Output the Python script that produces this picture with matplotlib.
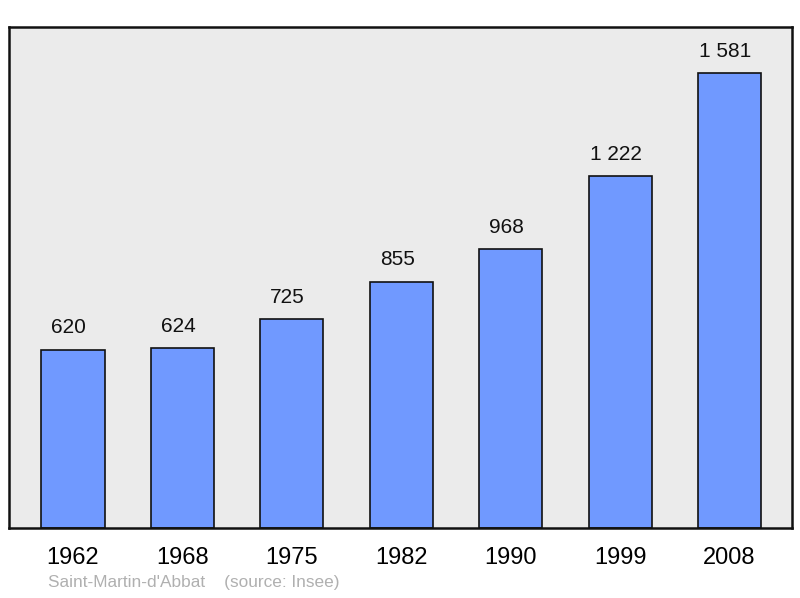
import matplotlib
matplotlib.use("Agg")
import matplotlib.pyplot as plt

plt.rcParams['font.family'] = ['Liberation Sans', 'DejaVu Sans']

years = ["1962", "1968", "1975", "1982", "1990", "1999", "2008"]
population = [620, 624, 725, 855, 968, 1222, 1581]
labels = ["620", "624", "725", "855", "968", "1 222", "1 581"]

fig = plt.figure(figsize=(8, 5.98), dpi=100)
ax = fig.add_axes([9/800, 70/598, 783/800, 501/598])
ax.set_facecolor("#ebebeb")

x = list(range(len(years)))
ax.bar(x, population, width=0.576, color="#7099ff", edgecolor="#111111",
       linewidth=1.2, zorder=2)

# value labels sit a little left of the bar centre in the original
for xi, v, lab in zip(x, population, labels):
    ax.annotate(lab, (xi, v), xytext=(-3, 9), textcoords="offset points",
                ha="center", va="bottom", fontsize=15, color="#111111")

ax.set_xlim(-0.585, 6.571)
ax.set_ylim(0, 1741)
ax.set_yticks([])
ax.set_xticks(x)
ax.set_xticklabels(years, fontsize=17)
ax.tick_params(axis="x", length=0, pad=13.5)

for s in ax.spines.values():
    s.set_linewidth(1.8)
    s.set_color("#111111")

fig.text(48/800, 1 - 583/598, "Saint-Martin-d'Abbat    (source: Insee)",
         fontsize=12.4, color="#b0b0b0", va="center", ha="left")

fig.savefig("out.png", dpi=100)
